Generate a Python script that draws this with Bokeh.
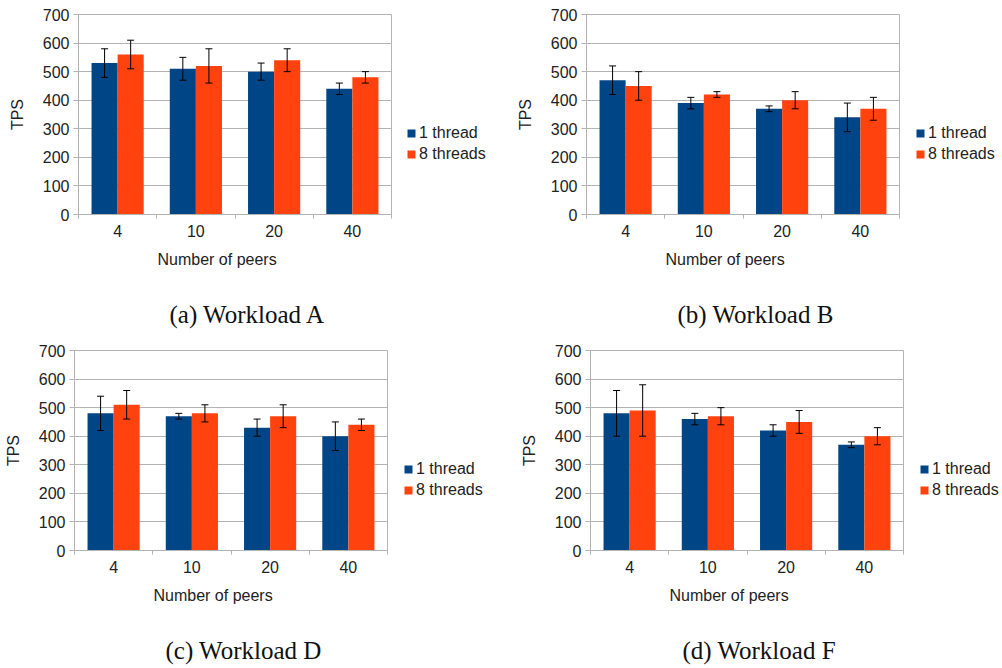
from bokeh.plotting import figure
from bokeh.models import (ColumnDataSource, Range1d, FixedTicker, LinearAxis,
                          Whisker, TeeHead, Legend, LegendItem, Title)
from bokeh.layouts import column, row
from bokeh.transform import dodge
from bokeh.embed import file_html
from bokeh.resources import INLINE

# ---------------- data ----------------
peers = ["4", "10", "20", "40"]
series = ["1 thread", "8 threads"]
tps_ticks = [0, 100, 200, 300, 400, 500, 600, 700]
captions = ["(a) Workload A", "(b) Workload B", "(c) Workload D", "(d) Workload F"]

a_one = [530, 510, 500, 440]
a_one_err = [50, 40, 30, 20]
a_eight = [560, 520, 540, 480]
a_eight_err = [50, 60, 40, 20]

b_one = [470, 390, 370, 340]
b_one_err = [50, 20, 10, 50]
b_eight = [450, 420, 400, 370]
b_eight_err = [50, 10, 30, 40]

d_one = [480, 470, 430, 400]
d_one_err = [60, 10, 30, 50]
d_eight = [510, 480, 470, 440]
d_eight_err = [50, 30, 40, 20]

f_one = [480, 460, 420, 370]
f_one_err = [80, 20, 20, 10]
f_eight = [490, 470, 450, 400]
f_eight_err = [90, 30, 40, 30]

# ---------------- style ----------------
BLUE = "#004586"
ORANGE = "#ff420e"
GRID = "#b3b3b3"
TEXT = "#222222"
SANS = "Liberation Sans"
SERIF = "Liberation Serif"
FRAME_W = 313
FRAME_H = 200
RIGHT = 9


def make_panel(caption, one, one_err, eight, eight_err, height, left, top,
               cap_gap, cap_offset):
    width = left + FRAME_W + RIGHT
    x = [i + 1 for i in range(len(peers))]
    src = ColumnDataSource(dict(
        x=x, peers=peers, one=one, eight=eight,
        one_lo=[v - e for v, e in zip(one, one_err)],
        one_hi=[v + e for v, e in zip(one, one_err)],
        eight_lo=[v - e for v, e in zip(eight, eight_err)],
        eight_hi=[v + e for v, e in zip(eight, eight_err)],
    ))
    p = figure(width=width, height=height,
               x_range=Range1d(0.5, len(peers) + 0.5), y_range=Range1d(0, 700),
               output_backend="svg", toolbar_location=None,
               min_border_left=left, min_border_right=RIGHT,
               min_border_top=top, min_border_bottom=height - top - FRAME_H)
    p.background_fill_color = "white"
    p.border_fill_color = "white"
    p.outline_line_color = GRID
    p.outline_line_width = 1

    # x axis (categories, boundary ticks)
    xa = p.xaxis[0]
    xa.ticker = FixedTicker(ticks=x, minor_ticks=[v - 0.5 for v in x] + [x[-1] + 0.5])
    xa.major_label_overrides = {xi: lab for xi, lab in zip(x, peers)}
    xa.major_tick_out = 4
    xa.major_tick_in = 0
    xa.major_tick_line_color = None
    xa.minor_tick_out = 4
    xa.minor_tick_in = 0
    xa.minor_tick_line_color = GRID
    xa.axis_line_color = GRID
    xa.major_label_standoff = 6
    xa.major_label_text_font = SANS
    xa.major_label_text_font_size = "16px"
    xa.major_label_text_color = TEXT

    # y axis
    ya = p.yaxis[0]
    ya.ticker = FixedTicker(ticks=tps_ticks)
    ya.axis_line_color = GRID
    ya.major_tick_out = 5
    ya.major_tick_in = 0
    ya.major_tick_line_color = GRID
    ya.minor_tick_line_color = None
    ya.major_label_standoff = 4
    ya.major_label_text_font = SANS
    ya.major_label_text_font_size = "16px"
    ya.major_label_text_color = TEXT
    ya.axis_label = "TPS"
    ya.axis_label_standoff = 14
    ya.axis_label_text_font = SANS
    ya.axis_label_text_font_size = "16px"
    ya.axis_label_text_font_style = "normal"
    ya.axis_label_text_color = TEXT

    p.ygrid.ticker = FixedTicker(ticks=tps_ticks)
    p.ygrid.grid_line_color = GRID
    p.xgrid.grid_line_color = None

    # bars
    p.vbar(x=dodge("x", -1 / 6, range=p.x_range), top="one", width=1 / 3,
           source=src, fill_color=BLUE, line_color=None)
    p.vbar(x=dodge("x", 1 / 6, range=p.x_range), top="eight", width=1 / 3,
           source=src, fill_color=ORANGE, line_color=None)

    # error bars
    for off, lo, hi in [(-1 / 6, "one_lo", "one_hi"), (1 / 6, "eight_lo", "eight_hi")]:
        w = Whisker(source=src, base=dodge("x", off, range=p.x_range), lower=lo, upper=hi,
                    line_color="black", line_width=1, level="annotation",
                    upper_head=TeeHead(size=7, line_color="black", line_width=1),
                    lower_head=TeeHead(size=7, line_color="black", line_width=1))
        p.add_layout(w)

    # x axis title
    p.add_layout(Title(text="Number of peers", align="left", offset=79,
                       vertical_align="bottom", standoff=18,
                       text_font=SANS, text_font_size="16px",
                       text_font_style="normal", text_color=TEXT), "below")

    # gap before the caption
    gap = LinearAxis(ticker=FixedTicker(ticks=[]), axis_label=" ",
                     axis_label_standoff=cap_gap, axis_label_text_font_size="1px",
                     axis_line_color=None, major_tick_out=0, major_tick_in=0,
                     minor_tick_out=0, minor_tick_in=0, major_label_standoff=0)
    p.add_layout(gap, "below")

    # sub-figure caption
    p.add_layout(Title(text=caption, align="left", offset=cap_offset,
                       vertical_align="top", standoff=0,
                       text_font=SERIF, text_font_size="25px",
                       text_font_style="normal", text_color="#111111"), "below")
    return p


def make_legend(width, height, dx):
    lf = figure(width=width, height=height, x_range=Range1d(0, 1), y_range=Range1d(0, 1),
                output_backend="svg", toolbar_location=None, min_border=0,
                x_axis_location=None, y_axis_location=None)
    lf.outline_line_color = None
    lf.grid.visible = False
    lf.background_fill_color = "white"
    lf.border_fill_color = "white"
    # zero-size proxies that only carry the legend swatch styles
    k1 = lf.vbar(x=[0], top=[0], bottom=[0], width=0, fill_color=BLUE, line_color=None)
    k2 = lf.vbar(x=[0], top=[0], bottom=[0], width=0, fill_color=ORANGE, line_color=None)
    leg = Legend(items=[LegendItem(label=series[0], renderers=[k1]),
                        LegendItem(label=series[1], renderers=[k2])],
                 location=(dx, 51), orientation="vertical",
                 glyph_width=10, glyph_height=10, label_standoff=3, spacing=3,
                 padding=0, margin=0, border_line_color=None,
                 background_fill_alpha=0,
                 label_text_font=SANS, label_text_font_size="16px",
                 label_text_color=TEXT)
    lf.add_layout(leg)
    return lf


TOP_H = 336
BOT_H = 332

pA = make_panel(captions[0], a_one, a_one_err, a_eight, a_eight_err,
                TOP_H, 78, 14, 20, 91)
pB = make_panel(captions[1], b_one, b_one_err, b_eight, b_eight_err,
                TOP_H, 86, 14, 20, 91)
pD = make_panel(captions[2], d_one, d_one_err, d_eight, d_eight_err,
                BOT_H, 74, 14, 20, 91)
pF = make_panel(captions[3], f_one, f_one_err, f_eight, f_eight_err,
                BOT_H, 90, 14, 20, 92)

lA = make_legend(500 - pA.width, TOP_H, 6)
lB = make_legend(502 - pB.width, TOP_H, 7)
lD = make_legend(500 - pD.width, BOT_H, 7)
lF = make_legend(502 - pF.width, BOT_H, 7)

layout = column(row(pA, lA, pB, lB), row(pD, lD, pF, lF))

with open("out.html", "w") as fh:
    fh.write(file_html(layout, INLINE))
